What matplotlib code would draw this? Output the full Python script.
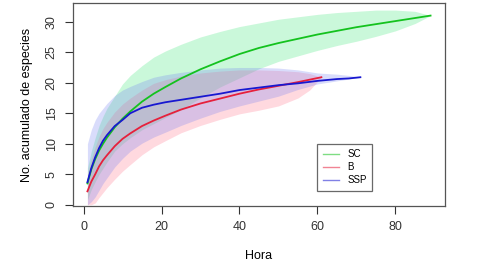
import matplotlib
matplotlib.use('Agg')
import matplotlib.pyplot as plt

plt.rcParams['font.family'] = ['Liberation Sans', 'DejaVu Sans']

# curvas de acumulacion (media, limite superior, limite inferior)
sc_x = [1, 2, 3, 4, 5, 6, 8, 10, 12, 15, 18, 21, 25, 30, 35, 40, 45, 50, 55, 60, 65, 70, 75, 80, 85, 89]
sc_y = [3.5, 5.8, 7.5, 8.9, 10.0, 11.0, 12.7, 14.1, 15.3, 16.9, 18.2, 19.3, 20.7, 22.2, 23.5, 24.7,
        25.7, 26.5, 27.2, 27.9, 28.5, 29.1, 29.6, 30.1, 30.6, 31.0]
sc_hi = [6.0, 8.8, 11.0, 13.0, 14.5, 15.8, 17.8, 19.8, 21.2, 22.8, 24.2, 25.2, 26.3, 27.5, 28.4, 29.2,
         29.8, 30.4, 30.8, 31.2, 31.5, 31.7, 31.9, 31.9, 31.7, 31.0]
sc_lo = [0.8, 2.5, 3.8, 5.0, 6.0, 7.0, 8.8, 10.0, 11.0, 12.3, 13.3, 14.3, 15.6, 17.5, 19.3, 20.8,
         22.3, 23.5, 24.4, 25.3, 26.1, 26.8, 27.6, 28.5, 29.7, 31.0]

b_x = [1, 2, 3, 4, 5, 6, 8, 10, 12, 15, 18, 21, 25, 30, 35, 40, 45, 50, 55, 58, 61]
b_y = [2.2, 3.8, 5.0, 6.3, 7.3, 8.1, 9.6, 10.8, 11.7, 12.9, 13.8, 14.6, 15.6, 16.6, 17.4, 18.2,
       18.9, 19.5, 20.1, 20.5, 20.9]
b_hi = [5.0, 7.5, 9.5, 11.2, 12.5, 13.5, 15.2, 16.5, 17.5, 18.8, 19.9, 20.5, 21.1, 21.6, 21.9, 22.1,
        22.1, 22.0, 21.8, 21.5, 20.9]
b_lo = [0.0, 0.0, 0.3, 1.2, 2.0, 2.8, 4.2, 5.5, 6.6, 8.2, 9.5, 10.5, 11.8, 13.0, 14.0, 14.9,
        15.5, 16.2, 17.5, 18.8, 20.9]

ssp_x = [1, 2, 3, 4, 5, 6, 8, 10, 12, 15, 18, 21, 25, 30, 35, 40, 45, 50, 55, 60, 65, 68, 71]
ssp_y = [3.7, 6.0, 7.8, 9.3, 10.5, 11.4, 12.9, 13.9, 15.0, 15.9, 16.4, 16.8, 17.2, 17.7, 18.2, 18.8,
         19.2, 19.6, 19.9, 20.3, 20.6, 20.7, 20.9]
ssp_hi = [10.0, 12.3, 13.9, 15.0, 15.8, 16.6, 17.9, 18.8, 19.4, 20.2, 20.9, 21.3, 21.7, 22.1, 22.4, 22.5,
          22.5, 22.4, 22.1, 21.6, 21.4, 21.2, 20.9]
ssp_lo = [0.0, 0.5, 1.3, 2.4, 3.5, 4.4, 6.2, 7.6, 8.8, 10.1, 11.1, 11.9, 13.0, 14.2, 15.3, 16.2,
          17.0, 17.8, 18.9, 19.8, 20.3, 20.6, 20.9]

labels = ['SC', 'B', 'SSP']
xticks = [0, 20, 40, 60, 80]
yticks = [0, 5, 10, 15, 20, 25, 30]

fig = plt.figure(figsize=(4.85, 2.69), dpi=100)
ax = fig.add_axes([0.1505, 0.234, 0.767, 0.755])

ax.fill_between(sc_x, sc_lo, sc_hi, color=(0.2, 0.9, 0.45), alpha=0.26, lw=0)
ax.fill_between(b_x, b_lo, b_hi, color=(1.0, 0.45, 0.55), alpha=0.27, lw=0)
ax.fill_between(ssp_x, ssp_lo, ssp_hi, color=(0.45, 0.5, 0.95), alpha=0.27, lw=0)

ax.plot(sc_x, sc_y, color='#14c21e', lw=1.3, label=labels[0])
ax.plot(b_x, b_y, color='#e6203c', lw=1.3, label=labels[1])
ax.plot(ssp_x, ssp_y, color='#1818d0', lw=1.3, label=labels[2])

ax.set_xlim(-2.7, 92.7)
ax.set_ylim(-0.21, 33.07)
ax.set_xticks(xticks)
ax.set_yticks(yticks)
ax.set_yticklabels([str(v) for v in yticks], rotation=90, va='center')
ax.tick_params(colors='#333333', labelsize=9, length=6, width=0.8, pad=5)
for s in ax.spines.values():
    s.set_color('#555555')
    s.set_linewidth(0.9)

ax.set_xlabel('Hora', fontsize=9, labelpad=12)
ax.set_ylabel('No. acumulado de especies', fontsize=9, labelpad=9)

leg = ax.legend(loc='upper left', bbox_to_anchor=(0.656, 0.308), fontsize=7, frameon=True,
                fancybox=False, handlelength=1.7, handletextpad=0.8, borderpad=0.6,
                labelspacing=0.3, borderaxespad=0)
leg.get_frame().set_edgecolor('#444444')
leg.get_frame().set_linewidth(0.9)
for line in leg.get_lines():
    line.set_alpha(0.55)
    line.set_linewidth(1.0)

fig.savefig('out.png', dpi=100)
